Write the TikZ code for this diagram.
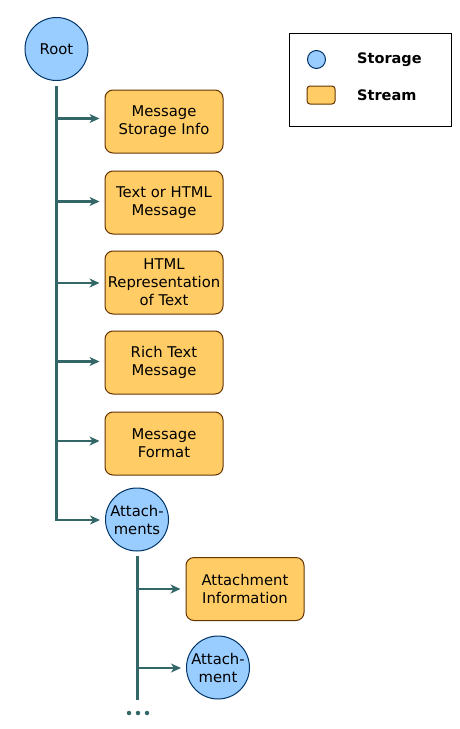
\documentclass[tikz,border=0pt]{standalone}
\usepackage{fontspec}
\setmainfont{DejaVu Sans}
\usetikzlibrary{arrows.meta}
\definecolor{stoFill}{HTML}{99CCFF}
\definecolor{stoLine}{HTML}{003366}
\definecolor{strFill}{HTML}{FFCC66}
\definecolor{strLine}{HTML}{663300}
\definecolor{trunk}{HTML}{336666}
\begin{document}
\begin{tikzpicture}[x=1pt,y=-1pt,
  txt/.style={font=\fontsize{14.8}{18}\selectfont, align=center, inner sep=0pt},
  storage/.style={txt, circle, draw=stoLine, fill=stoFill, line width=1pt, minimum size=#1},
  storage/.default=63pt,
  stream/.style={txt, rectangle, rounded corners=8pt, draw=strLine, fill=strFill, line width=1pt, minimum width=118pt, minimum height=63pt},
  trunkline/.style={draw=trunk, line width=2.4pt},
  branch/.style={draw=trunk, line width=2.2pt, -{Stealth[length=10pt,width=9pt,inset=3pt]}},
  dotstyle/.style={circle, fill=trunk, inner sep=0pt, minimum size=4.5pt},
  legendtxt/.style={font=\fontsize{14.5}{17}\selectfont\bfseries, anchor=west, inner sep=0pt}
]
\useasboundingbox (0,0) rectangle (459,729);
\fill[white] (0,0) rectangle (459,729);

% legend
\node[draw=black, line width=1pt, minimum width=162pt, minimum height=93pt, inner sep=0pt] (legend) at (370,79.5) {};
\node[circle, draw=stoLine, fill=stoFill, line width=1pt, minimum size=18pt, inner sep=0pt] (lsto) at (316.5,59.5) {};
\node[rectangle, rounded corners=3pt, draw=strLine, fill=strFill, line width=1pt, minimum width=28pt, minimum height=18pt, inner sep=0pt] (lstr) at (321,95) {};
\node[legendtxt] (lstotxt) at (357,59.5) {Storage};
\node[legendtxt] (lstrtxt) at (357,95.5) {Stream};

% nodes
\node[storage] (root) at (56.5,49) {Root};
\node[stream] (b1) at (164,121.5) {Message\\Storage Info};
\node[stream] (b2) at (164,202.5) {Text or HTML\\Message};
\node[stream] (b3) at (164,282.5) {HTML\\Representation\\of Text};
\node[stream] (b4) at (164,362.5) {Rich Text\\Message};
\node[stream] (b5) at (164,443.5) {Message\\Format};
\node[storage] (att) at (137,519.5) {Attach-\\ments};
\node[stream] (ai) at (245,589) {Attachment\\Information};
\node[storage] (a1) at (218,667.5) {Attach-\\ment};

% trunk 1
\coordinate (t0) at (56.5,86);
\coordinate (t1) at (56.5,118.5);
\coordinate (t2) at (56.5,201.5);
\coordinate (t3) at (56.5,283);
\coordinate (t4) at (56.5,361.5);
\coordinate (t5) at (56.5,441);
\coordinate (t6) at (56.5,520);
\draw[trunkline] (t0) -- (t6);
\draw[branch] (t1) -- ([xshift=-5pt]b1.west |- t1);
\draw[branch] (t2) -- ([xshift=-5pt]b2.west |- t2);
\draw[branch] (t3) -- ([xshift=-5pt]b3.west |- t3);
\draw[branch] (t4) -- ([xshift=-5pt]b4.west |- t4);
\draw[branch] (t5) -- ([xshift=-5pt]b5.west |- t5);
\draw[branch] ([xshift=-1.1pt]t6) -- ([xshift=-5pt]att.west |- t6);

% trunk 2
\coordinate (s0) at (137.5,556);
\coordinate (s1) at (137.5,589);
\coordinate (s2) at (137.5,668);
\coordinate (s3) at (137.5,700);
\draw[trunkline] (s0) -- (s3);
\draw[branch] (s1) -- ([xshift=-5pt]ai.west |- s1);
\draw[branch] (s2) -- ([xshift=-5pt]a1.west |- s2);

\node[dotstyle] (d1) at (129,713) {};
\node[dotstyle] (d2) at (138,713) {};
\node[dotstyle] (d3) at (147,713) {};
\end{tikzpicture}
\end{document}
